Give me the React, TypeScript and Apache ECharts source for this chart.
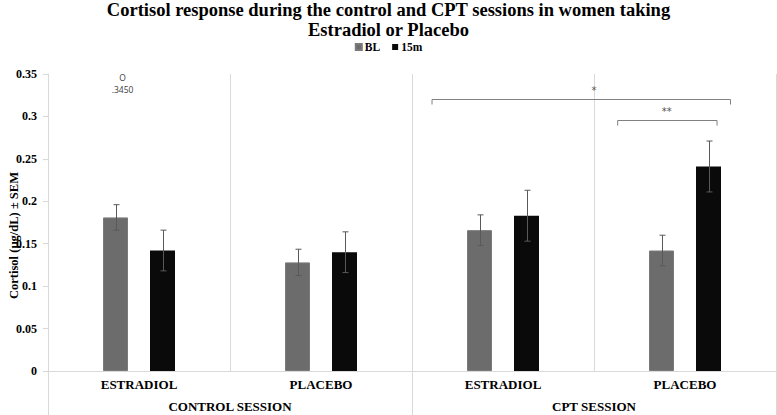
import React, { useEffect, useRef } from "react";
import * as echarts from "echarts";

const categories = ["ESTRADIOL", "PLACEBO", "ESTRADIOL", "PLACEBO"];
const sessions = ["CONTROL SESSION", "CPT SESSION"];
const seriesNames = ["BL", "15m"];
const blValues = [0.181, 0.128, 0.166, 0.142];
const blSem = [0.015, 0.0155, 0.018, 0.018];
const m15Values = [0.142, 0.14, 0.183, 0.241];
const m15Sem = [0.024, 0.024, 0.03, 0.03];
const yMin = 0;
const yMax = 0.35;
const yInterval = 0.05;
// significance brackets, x in category units (0..4 across the plot)
const bracketX1 = [2.11, 3.13];
const bracketX2 = [3.75, 3.676];
const bracketY = [0.3208, 0.2955];
const bracketLabels = ["*", "**"];
const bracketLabelX = [3.0, 3.4];
// stray annotation in the first group
const noteX = [0.41, 0.41];
const noteY = [0.3458, 0.332];
const noteTexts = ["O", ".3450"];

const SERIF = "'Liberation Serif', 'Times New Roman', serif";
const GRID_C = "#d9d9d9";
const BAR_W = 25;
const BAR_GAP = 0.88;

export default function App() {
  const ref = useRef<HTMLDivElement>(null);
  useEffect(() => {
    if (!ref.current) return;
    const chart = echarts.init(ref.current, undefined, { renderer: "svg" });
    const offset = (BAR_W + BAR_W * BAR_GAP) / 2;
    const errStyle = { stroke: "#595959", lineWidth: 1 };
    const errorRender = (sign: number) => (params: any, api: any) => {
      const cat = api.value(0);
      const mean = api.value(1);
      const sem = api.value(2);
      const top = api.coord([cat, mean + sem]);
      const bot = api.coord([cat, mean - sem]);
      const x = Math.round(top[0] + sign * offset) + 0.5;
      const cap = 3;
      return {
        type: "group",
        children: [
          { type: "line", shape: { x1: x, y1: top[1], x2: x, y2: bot[1] }, style: errStyle },
          { type: "line", shape: { x1: x - cap, y1: top[1], x2: x + cap, y2: top[1] }, style: errStyle },
          { type: "line", shape: { x1: x - cap, y1: bot[1], x2: x + cap, y2: bot[1] }, style: errStyle },
        ],
      };
    };
    const bracketData = bracketX1.map((x1, i) => [x1, bracketX2[i], bracketY[i], bracketLabelX[i], i]);
    const noteData = noteX.map((x, i) => [x, noteY[i], i]);

    chart.setOption({
      animation: false,
      backgroundColor: "#fff",
      title: {
        text: "Cortisol response during the control and CPT sessions in women taking\nEstradiol or Placebo",
        left: "center",
        top: 0,
        padding: 0,
        textStyle: { fontFamily: SERIF, fontWeight: "bold", fontSize: 18.5, lineHeight: 20, color: "#000" },
      },
      legend: {
        data: seriesNames,
        top: 41,
        left: "center",
        padding: 0,
        icon: "rect",
        itemWidth: 6,
        itemHeight: 6,
        itemGap: 12,
        textStyle: { fontFamily: SERIF, fontWeight: "bold", fontSize: 11.5, color: "#000", padding: [0, 0, 0, -2] },
      },
      grid: { left: 48, right: 1, top: 74, bottom: 44, containLabel: false, outerBoundsMode: "none" },
      xAxis: [
        {
          type: "category",
          data: categories,
          position: "bottom",
          axisLine: { lineStyle: { color: GRID_C } },
          axisTick: { show: false },
          splitLine: { show: true, lineStyle: { color: GRID_C } },
          axisLabel: { fontFamily: SERIF, fontWeight: "bold", fontSize: 13, color: "#000", margin: 7 },
        },
        {
          type: "category",
          data: sessions,
          position: "bottom",
          axisLine: { show: false },
          axisTick: { show: true, length: 44, lineStyle: { color: GRID_C } },
          splitLine: { show: false },
          axisLabel: { fontFamily: SERIF, fontWeight: "bold", fontSize: 13, color: "#000", margin: 29 },
        },
        { type: "value", min: 0, max: 4, position: "top", show: false },
      ],
      yAxis: {
        type: "value",
        min: yMin,
        max: yMax,
        interval: yInterval,
        name: "Cortisol (µg/dL) ± SEM",
        nameLocation: "middle",
        nameGap: 28,
        nameMoveOverlap: false,
        nameTextStyle: { fontFamily: SERIF, fontWeight: "bold", fontSize: 12.5, color: "#000", padding: [0, 26, 0, 0] },
        axisLine: { show: true, lineStyle: { color: GRID_C } },
        axisTick: { show: true, length: 5, lineStyle: { color: GRID_C } },
        splitLine: { show: false },
        axisLabel: { fontFamily: SERIF, fontWeight: "bold", fontSize: 12, color: "#000", margin: 11 },
      },
      series: [
        {
          name: seriesNames[0],
          type: "bar",
          data: blValues,
          barWidth: BAR_W,
          barGap: BAR_GAP * 100 + "%",
          itemStyle: { color: "#6c6c6c", borderColor: "#7a7a7a", borderWidth: 1 },
        },
        {
          name: seriesNames[1],
          type: "bar",
          data: m15Values,
          barWidth: BAR_W,
          barGap: BAR_GAP * 100 + "%",
          itemStyle: { color: "#0a0a0a" },
        },
        {
          name: "BL SEM",
          type: "custom",
          data: blValues.map((v, i) => [i, v, blSem[i]]),
          encode: { x: 0, y: 1 },
          renderItem: errorRender(-1),
          z: 5,
          silent: true,
        },
        {
          name: "15m SEM",
          type: "custom",
          data: m15Values.map((v, i) => [i, v, m15Sem[i]]),
          encode: { x: 0, y: 1 },
          renderItem: errorRender(1),
          z: 5,
          silent: true,
        },
        {
          name: "brackets",
          type: "custom",
          xAxisIndex: 2,
          data: bracketData,
          encode: { x: [0, 1], y: 2 },
          z: 6,
          silent: true,
          renderItem: (params: any, api: any) => {
            const a = api.coord([api.value(0), api.value(2)]);
            const b = api.coord([api.value(1), api.value(2)]);
            const lx = api.coord([api.value(3), api.value(2)])[0];
            const y = Math.round(a[1]) + 0.5;
            const t = 5;
            const idx = api.value(4);
            return {
              type: "group",
              children: [
                {
                  type: "polyline",
                  shape: { points: [[a[0], y + t], [a[0], y], [b[0], y], [b[0], y + t]] },
                  style: { stroke: "#808080", lineWidth: 1, fill: "none" },
                },
                {
                  type: "text",
                  x: lx,
                  y: y - 4,
                  style: {
                    text: bracketLabels[idx],
                    fontFamily: "'DejaVu Sans', sans-serif",
                    fontSize: 10,
                    fill: "#555",
                    align: "center",
                    verticalAlign: "bottom",
                  },
                },
              ],
            };
          },
        },
        {
          name: "note",
          type: "custom",
          xAxisIndex: 2,
          data: noteData,
          encode: { x: 0, y: 1 },
          z: 6,
          silent: true,
          renderItem: (params: any, api: any) => {
            const p = api.coord([api.value(0), api.value(1)]);
            return {
              type: "text",
              x: p[0],
              y: p[1],
              style: {
                text: noteTexts[api.value(2)],
                fontFamily: "'Open Sans', sans-serif",
                fontSize: 8.5,
                fill: "#404040",
                align: "center",
                verticalAlign: "middle",
              },
            };
          },
        },
      ],
    });
    return () => chart.dispose();
  }, []);
  return (
    <div
      ref={ref}
      style={{ position: "fixed", left: 0, top: 0, width: 777, height: 415, background: "#fff" }}
    />
  );
}
